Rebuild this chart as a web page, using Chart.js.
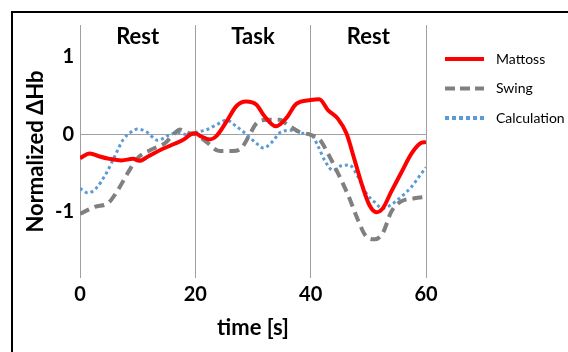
<!DOCTYPE html>
<html>
<head>
<meta charset="utf-8">
<script src="https://cdn.jsdelivr.net/npm/chart.js@4.4.0/dist/chart.umd.min.js"></script>
<style>
  html, body { margin: 0; padding: 0; background: #fff; }
  canvas { display: block; }
</style>
</head>
<body>
<canvas id="chart_hb" width="568" height="352"></canvas>
<script>
// values (time in s, normalized dHb)
const mattossTime = [0, 1.7, 3.4, 5.1, 7.2, 9.2, 10.3, 11.8, 14.1, 16.4, 18.1, 19.3, 20, 21, 22.5, 23.6, 25.4, 27.1, 28.8, 30.6, 32, 34, 35.8, 37.5, 40, 41.5, 43, 44.7, 46.2, 47.6, 49, 50.2, 51.4, 52.5, 54, 55.7, 57.5, 59, 60];
const mattossVal = [-0.31, -0.25, -0.29, -0.32, -0.34, -0.32, -0.345, -0.29, -0.2, -0.125, -0.065, 0, 0.01, -0.03, -0.07, -0.03, 0.16, 0.36, 0.42, 0.38, 0.23, 0.1, 0.21, 0.39, 0.44, 0.45, 0.31, 0.2, 0.01, -0.33, -0.68, -0.92, -1.01, -0.96, -0.74, -0.5, -0.25, -0.12, -0.1];

const swingTime = [0, 2.6, 4.9, 6.6, 8.3, 10, 12.4, 14.7, 16.4, 17.3, 19, 20, 21.9, 24.2, 26.5, 28, 29.4, 30.6, 32.3, 34.6, 36, 38, 40, 41.5, 43, 44.7, 46.5, 48.2, 49.6, 51.1, 52.5, 54, 55.7, 58, 60];
const swingVal = [-1.03, -0.94, -0.89, -0.72, -0.5, -0.31, -0.2, -0.12, 0.01, 0.06, 0.01, 0, -0.1, -0.22, -0.22, -0.18, -0.01, 0.14, 0.185, 0.185, 0.12, 0.03, -0.01, -0.065, -0.25, -0.5, -0.79, -1.11, -1.32, -1.36, -1.28, -1.0, -0.87, -0.83, -0.81];

const calcTime = [0, 1.4, 2.8, 4.6, 6, 7.5, 8.9, 10, 11.5, 13.5, 15.5, 17, 18.7, 20, 21.9, 23.9, 25.4, 27.1, 28.8, 30.6, 31.8, 33.2, 34.9, 36.9, 38.6, 40, 41.3, 42.5, 43.9, 45.3, 46.7, 48.2, 49.6, 51.1, 52.5, 54, 55.7, 57.5, 59, 60];
const calcVal = [-0.7, -0.76, -0.7, -0.5, -0.29, -0.07, 0.03, 0.065, 0.03, -0.08, -0.01, 0.02, -0.01, 0.02, 0.055, 0.13, 0.18, 0.1, 0, -0.12, -0.18, -0.11, 0.03, 0.05, 0.01, 0, -0.16, -0.35, -0.47, -0.41, -0.4, -0.55, -0.76, -0.88, -0.96, -0.91, -0.81, -0.68, -0.53, -0.43];

const xTicks = [0, 20, 40, 60];
const yTicks = [-1, 0, 1];
const phaseNames = ['Rest', 'Task', 'Rest'];
const phaseCenters = [10, 30, 50];

function pairs(xs, ys) {
	return xs.map(function(x, i){ return {x: x, y: ys[i]}; });
}

// black frame around the figure + phase names on top
const framePlugin = {
	id: 'frame',
	beforeDraw(chart) {
		const ctx = chart.ctx;
		ctx.save();
		ctx.fillStyle = '#fff';
		ctx.fillRect(0, 0, chart.width, chart.height);
		ctx.strokeStyle = '#000';
		ctx.lineWidth = 2;
		ctx.strokeRect(12, 12, chart.width + 20, chart.height + 20);
		ctx.restore();
	},
	afterDraw(chart) {
		const ctx = chart.ctx;
		const x = chart.scales.x;
		ctx.save();
		ctx.fillStyle = '#000';
		ctx.font = 'bold 22px Lato';
		ctx.textAlign = 'center';
		ctx.textBaseline = 'middle';
		phaseNames.forEach(function(name, i){
			ctx.fillText(name, x.getPixelForValue(phaseCenters[i]), 37);
		});
		ctx.restore();
	}
};

// legend on the right, drawn from the datasets
const sideLegend = {
	id: 'sideLegend',
	afterDraw(chart) {
		const ctx = chart.ctx;
		const left = chart.chartArea.right + 19;
		chart.data.datasets.forEach(function(ds, i){
			const y = 59 + i * 29.5;
			ctx.save();
			ctx.strokeStyle = ds.borderColor;
			ctx.lineWidth = 4;
			ctx.setLineDash(ds.legendDash);
			ctx.beginPath();
			ctx.moveTo(left, y);
			ctx.lineTo(left + 39, y);
			ctx.stroke();
			ctx.setLineDash([]);
			ctx.fillStyle = '#000';
			ctx.font = '14px Lato';
			ctx.textBaseline = 'middle';
			ctx.fillText(ds.label, left + 51, y);
			ctx.restore();
		});
	}
};

const ctx = document.getElementById('chart_hb').getContext('2d');
const config = {
	type: 'line',
	data: {
		datasets: [{
			label: 'Mattoss',
			data: pairs(mattossTime, mattossVal),
			borderColor: '#ff0000',
			borderWidth: 4,
			borderDash: [],
			legendDash: []
		},
		{
			label: 'Swing',
			data: pairs(swingTime, swingVal),
			borderColor: '#808080',
			borderWidth: 4,
			borderDash: [10, 6],
			legendDash: [10, 5]
		},
		{
			label: 'Calculation',
			data: pairs(calcTime, calcVal),
			borderColor: '#5b9bd5',
			borderWidth: 3,
			borderDash: [3, 3],
			legendDash: [4, 3]
		}]
	},
	options: {
		responsive: false,
		animation: false,
		cubicInterpolationMode: 'monotone',
		elements: { point: { radius: 0 } },
		layout: { padding: { left: 0, right: 142, top: 25, bottom: 0 } },
		plugins: {
			legend: { display: false },
			tooltip: { enabled: false }
		},
		scales: {
			x: {
				type: 'linear',
				min: 0,
				max: 60,
				afterBuildTicks: function(scale){ scale.ticks = xTicks.map(function(v){ return {value: v}; }); },
				afterFit: function(scale){ scale.height = 74; },
				border: { display: false },
				grid: { color: '#a0a0a0', lineWidth: 1, drawTicks: false },
				ticks: { color: '#000', font: { family: 'Lato', size: 20, weight: 'bold' }, padding: 5, maxRotation: 0 },
				title: { display: true, text: 'time [s]', color: '#000', font: { family: 'Lato', size: 22, weight: 'bold' }, padding: { top: 0, bottom: 11 } }
			},
			y: {
				min: -1.86,
				max: 1.41,
				afterBuildTicks: function(scale){ scale.ticks = yTicks.map(function(v){ return {value: v}; }); },
				afterFit: function(scale){ scale.width = 80; },
				border: { display: false },
				grid: {
					color: function(c){ return c.tick && c.tick.value === 0 ? '#a0a0a0' : 'rgba(0,0,0,0)'; },
					lineWidth: 1,
					drawTicks: false
				},
				ticks: { color: '#000', font: { family: 'Lato', size: 20, weight: 'bold' }, padding: 6 },
				title: { display: true, text: 'Normalized ΔHb', color: '#000', font: { family: 'Lato', size: 22, weight: 'bold' }, padding: { top: 23, bottom: 0 } }
			}
		}
	},
	plugins: [framePlugin, sideLegend]
};
const chart_hb = new Chart(ctx, config);
</script>
</body>
</html>
